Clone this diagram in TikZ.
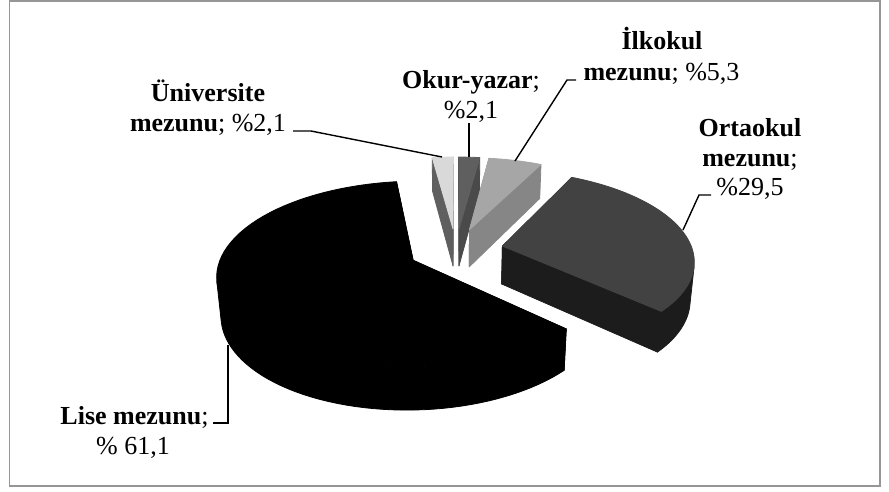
\documentclass[tikz,border=0pt]{standalone}
\usepackage{fontspec}
\setmainfont{Liberation Serif}
\definecolor{cUniTop}{HTML}{D9D9D9}
\definecolor{cUniSide}{HTML}{5F5F5F}
\definecolor{cOkTop}{HTML}{5F5F5F}
\definecolor{cOkSide}{HTML}{4A4A4A}
\definecolor{cIlkTop}{HTML}{A6A6A6}
\definecolor{cIlkSide}{HTML}{868686}
\definecolor{cOrtTop}{HTML}{424242}
\definecolor{cOrtSide}{HTML}{1C1C1C}
\definecolor{cLise}{HTML}{000000}
\definecolor{cFrame}{HTML}{969696}
\newcommand\pieside[3]{%
  \pgfmathsetmacro\pbis{(#1+#2)/2}%
  \pgfmathsetmacro\puo{0.25*sin(\pbis)}%
  \pgfmathsetmacro\pvo{0.25*cos(\pbis)}%
  \pgfmathsetmacro\pua{\puo+sin(#1)}%
  \pgfmathsetmacro\pva{\pvo+cos(#1)}%
  \pgfmathsetmacro\pub{\puo+sin(#2)}%
  \pgfmathsetmacro\pvb{\pvo+cos(#2)}%
  \filldraw[facestyle=#3] ({sx(\puo,\pvo,0)},{sy(\puo,\pvo,0)}) -- ({sx(\pua,\pva,0)},{sy(\pua,\pva,0)}) -- ({sx(\pua,\pva,-0.23)},{sy(\pua,\pva,-0.23)}) -- ({sx(\puo,\pvo,-0.23)},{sy(\puo,\pvo,-0.23)}) -- cycle;
  \filldraw[facestyle=#3] ({sx(\puo,\pvo,0)},{sy(\puo,\pvo,0)}) -- ({sx(\pub,\pvb,0)},{sy(\pub,\pvb,0)}) -- ({sx(\pub,\pvb,-0.23)},{sy(\pub,\pvb,-0.23)}) -- ({sx(\puo,\pvo,-0.23)},{sy(\puo,\pvo,-0.23)}) -- cycle;
}
\newcommand\piestrip[3]{%
  \filldraw[facestyle=#3] plot[domain=#1:#2,samples=50] ({sx(\puo+sin(\x),\pvo+cos(\x),0)},{sy(\puo+sin(\x),\pvo+cos(\x),0)}) -- plot[domain=#2:#1,samples=50] ({sx(\puo+sin(\x),\pvo+cos(\x),-0.23)},{sy(\puo+sin(\x),\pvo+cos(\x),-0.23)}) -- cycle;
}
\newcommand\pietop[3]{%
  \filldraw[facestyle=#3] ({sx(\puo,\pvo,0)},{sy(\puo,\pvo,0)}) -- plot[domain=#1:#2,samples=70] ({sx(\puo+sin(\x),\pvo+cos(\x),0)},{sy(\puo+sin(\x),\pvo+cos(\x),0)}) -- cycle;
}
\tikzset{
  facestyle/.style={fill=#1, draw=#1, line width=0.8pt, line join=round},
  lab/.style={font=\fontsize{26}{30}\selectfont, inner sep=0pt, anchor=base, text=black},
  lead/.style={draw=black, line width=1.4pt},
  frame/.style={draw=cFrame, line width=1.6pt}
}
\begin{document}
\begin{tikzpicture}[x=1pt,y=-1pt,
  declare function={
    dn(\pa,\pb,\pc)=1+0.165*(\pb*0.886-\pc*0.463);
    sx(\pa,\pb,\pc)=456+190*\pa/dn(\pa,\pb,\pc);
    sy(\pa,\pb,\pc)=250-190*(\pb*0.463+\pc*0.886)/dn(\pa,\pb,\pc);
  }]
\useasboundingbox (0,0) rectangle (889,491);
\fill[white] (0,0) rectangle (889,491);
\draw[frame] (9.5,1) rectangle (880,486);

% Universite
\pieside{352.4476}{360}{cUniSide}
\pietop{352.4476}{360}{cUniTop}
% Okur-yazar
\pieside{0}{7.5524}{cOkSide}
\pietop{0}{7.5524}{cOkTop}
% Ilkokul
\pieside{7.5524}{26.6134}{cIlkSide}
\pietop{7.5524}{26.6134}{cIlkTop}
% Ortaokul
\pieside{26.6134}{132.7073}{cOrtSide}
\piestrip{103.3}{132.7073}{cOrtSide}
\pietop{26.6134}{132.7073}{cOrtTop}
% Lise
\pieside{132.7073}{352.4476}{cLise}
\piestrip{132.7073}{256.6}{cLise}
\pietop{132.7073}{352.4476}{cLise}

% labels
\node[lab] (uni1) at (208,101) {\bfseries Üniversite};
\node[lab] (uni2) at (208,131) {\textbf{mezunu}; \%2,1};
\node[lab] (ok1) at (471,88) {\textbf{Okur-yazar};};
\node[lab] (ok2) at (471,118.5) {\%2,1};
\node[lab] (ilk1) at (662,49.5) {\bfseries İlkokul};
\node[lab] (ilk2) at (661.5,80) {\textbf{mezunu}; \%5,3};
\node[lab] (ort1) at (750,136) {\bfseries Ortaokul};
\node[lab] (ort2) at (750,166) {\textbf{mezunu};};
\node[lab] (ort3) at (750,195.5) {\%29,5};
\node[lab] (lis1) at (134.5,424) {\textbf{Lise mezunu};};
\node[lab] (lis2) at (133,454) {\% 61,1};

% leader points
\coordinate (uniA) at (293,131);
\coordinate (uniB) at (311,131);
\coordinate (uniP) at (442,157);
\coordinate (okA) at (469,123);
\coordinate (okP) at (469,157);
\coordinate (ilkA) at (576,80);
\coordinate (ilkB) at (567,80);
\coordinate (ilkP) at (515,161);
\coordinate (ortA) at (711,195);
\coordinate (ortB) at (699,195);
\coordinate (ortP) at (683,230);
\coordinate (lisA) at (213,423);
\coordinate (lisB) at (228,423);
\coordinate (lisP) at (228,345);
\draw[lead] (uniA) -- (uniB) -- (uniP);
\draw[lead] (okA) -- (okP);
\draw[lead] (ilkA) -- (ilkB) -- (ilkP);
\draw[lead] (ortA) -- (ortB) -- (ortP);
\draw[lead] (lisA) -- (lisB) -- (lisP);
\end{tikzpicture}
\end{document}
